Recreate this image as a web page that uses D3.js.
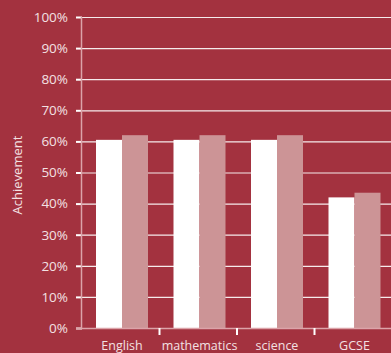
<!DOCTYPE html>
<html>
<head>
<meta charset="utf-8">
<script src="https://cdn.jsdelivr.net/npm/d3@7"></script>
<style>
  html, body { margin: 0; padding: 0; background: #a3323f; }
  svg { display: block; font-family: "Open Sans", "Lato", sans-serif; }
</style>
</head>
<body>
<div id="chart"></div>
<script>
var categories = ["English", "mathematics", "science", "GCSE"];
var seriesA = [60.5, 60.5, 60.5, 42];   // white bars
var seriesB = [62, 62, 62, 43.5];       // pink bars
var yTicks = [0, 10, 20, 30, 40, 50, 60, 70, 80, 90, 100];

var width = 391, height = 353;
var bg = "#a3323f";
var plotLeft = 82, plotRight = 392, plotTop = 17, plotBottom = 328;

var svg = d3.select("#chart").append("svg")
	.attr("width", width)
	.attr("height", height)

svg.append("rect")
	.attr("width", width)
	.attr("height", height)
	.attr("fill", bg)

var y = d3.scaleLinear().domain([0, 100]).range([plotBottom, plotTop]);
var x0 = d3.scaleBand().domain(categories).range([plotLeft, plotRight]).padding(0);
var x1 = d3.scaleBand().domain(["a", "b"]).range([14, 66]).padding(0);

// gridlines
svg.append("g")
	.selectAll("line")
	.data(yTicks.filter(function(d) { return d > 0; }))
	.enter().append("line")
	.attr("x1", plotLeft)
	.attr("x2", width)
	.attr("y1", function(d) { return y(d) + 0.5; })
	.attr("y2", function(d) { return y(d) + 0.5; })
	.attr("stroke", "#ffffff")
	.attr("stroke-opacity", 0.9)
	.attr("stroke-width", 1.2)

// bars
var groups = svg.append("g")
	.selectAll("g")
	.data(categories)
	.enter().append("g")
	.attr("transform", function(d) { return "translate(" + x0(d) + ",0)"; })

groups.append("rect")
	.attr("x", x1("a"))
	.attr("width", x1.bandwidth())
	.attr("y", function(d, i) { return y(seriesA[i]); })
	.attr("height", function(d, i) { return plotBottom - y(seriesA[i]); })
	.attr("fill", "#ffffff")

groups.append("rect")
	.attr("x", x1("b"))
	.attr("width", x1.bandwidth())
	.attr("y", function(d, i) { return y(seriesB[i]); })
	.attr("height", function(d, i) { return plotBottom - y(seriesB[i]); })
	.attr("fill", "#cc9496")

// y axis
var yAxis = svg.append("g")
	.attr("transform", "translate(" + plotLeft + ",0)")
	.call(d3.axisLeft(y).tickValues(yTicks).tickSize(6).tickPadding(8)
		.tickFormat(function(d) { return d + "%"; }))

yAxis.select(".domain").remove()
yAxis.selectAll(".tick line").attr("stroke", "#ffffff").attr("stroke-width", 2)
yAxis.selectAll(".tick text")
	.attr("fill", "#f3e1e3")
	.attr("font-size", 13.5)
	.attr("font-family", "Open Sans, Lato, sans-serif")

svg.append("line")
	.attr("x1", plotLeft - 0.5).attr("x2", plotLeft - 0.5)
	.attr("y1", plotTop).attr("y2", plotBottom)
	.attr("stroke", "#dca3a9")
	.attr("stroke-width", 1.5)

// x axis
svg.append("line")
	.attr("x1", plotLeft - 6).attr("x2", width)
	.attr("y1", plotBottom + 0.5).attr("y2", plotBottom + 0.5)
	.attr("stroke", "#dca3a9")
	.attr("stroke-width", 1.5)

svg.append("g")
	.selectAll("line")
	.data(categories.slice(1))
	.enter().append("line")
	.attr("x1", function(d) { return x0(d); })
	.attr("x2", function(d) { return x0(d); })
	.attr("y1", plotBottom)
	.attr("y2", plotBottom + 7)
	.attr("stroke", "#ffffff")
	.attr("stroke-width", 2)

svg.append("g")
	.selectAll("text")
	.data(categories)
	.enter().append("text")
	.attr("x", function(d) { return x0(d) + 40; })
	.attr("y", 350)
	.attr("text-anchor", "middle")
	.attr("fill", "#f3e1e3")
	.attr("font-size", 12.5)
	.text(function(d) { return d; })

svg.append("text")
	.attr("transform", "translate(22,175) rotate(-90)")
	.attr("text-anchor", "middle")
	.attr("fill", "#f3e1e3")
	.attr("font-size", 13)
	.text("Achievement")
</script>
</body>
</html>
